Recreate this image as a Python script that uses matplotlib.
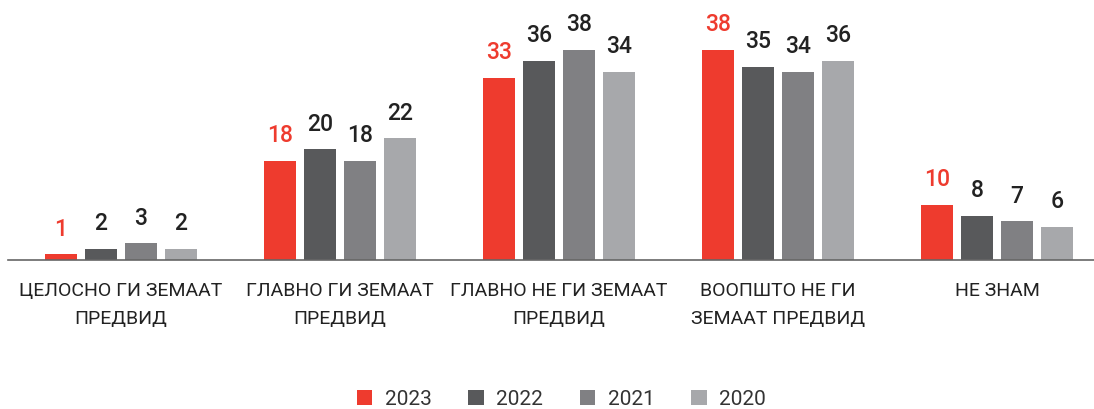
import matplotlib
matplotlib.use("Agg")
import matplotlib.pyplot as plt
from matplotlib.patches import Patch
import numpy as np

plt.rcParams['font.family'] = ['Roboto', 'DejaVu Sans']

categories = ["ЦЕЛОСНО ГИ ЗЕМААТ\nПРЕДВИД", "ГЛАВНО ГИ ЗЕМААТ\nПРЕДВИД",
              "ГЛАВНО НЕ ГИ ЗЕМААТ\nПРЕДВИД", "ВООПШТО НЕ ГИ\nЗЕМААТ ПРЕДВИД", "НЕ ЗНАМ"]
series_names = ["2023", "2022", "2021", "2020"]
v2023 = [1, 18, 33, 38, 10]
v2022 = [2, 20, 36, 35, 8]
v2021 = [3, 18, 38, 34, 7]
v2020 = [2, 22, 34, 36, 6]
values = [v2023, v2022, v2021, v2020]
colors = ["#EE3B2E", "#58595B", "#808083", "#A7A8AB"]
label_colors = ["#EE3B2E", "#222222", "#222222", "#222222"]

fig = plt.figure(figsize=(10.94, 4.09), dpi=100)
ax = fig.add_axes([8/1094, 1 - 260/409, 1086/1094, 260/409])

x = np.arange(len(categories))
step = 40/219
width = 32/219
for i, (vals, c, lc) in enumerate(zip(values, colors, label_colors)):
    pos = x + (i - 1.5) * step
    ax.bar(pos, vals, width=width, color=c)
    for px, v in zip(pos, vals):
        ax.annotate(str(v), (px, v), xytext=(0, 13.5), textcoords='offset points',
                    ha='center', va='baseline', fontsize=16.5, fontweight='medium', color=lc)

ax.set_xlim(-0.516, -0.516 + 1086/219)
ax.set_ylim(0, 260/5.526)
for s in ['top', 'right', 'left']:
    ax.spines[s].set_visible(False)
ax.spines['bottom'].set_color('#666666')
ax.spines['bottom'].set_linewidth(1.2)
ax.set_yticks([])
ax.set_xticks(x)
ax.set_xticklabels(categories, fontsize=14, color='#222222', linespacing=1.72)
ax.tick_params(axis='x', length=0, pad=16)

handles = [Patch(facecolor=c, edgecolor='none') for c in colors]
fig.legend(handles, series_names, loc='center', bbox_to_anchor=(0.513, 1 - 399.5/409), ncol=4,
           frameon=False, fontsize=15, handlelength=0.75, handleheight=0.75,
           handletextpad=0.6, columnspacing=1.75, labelcolor='#333333',
           borderpad=0.1)

fig.savefig("out.png", dpi=100)
